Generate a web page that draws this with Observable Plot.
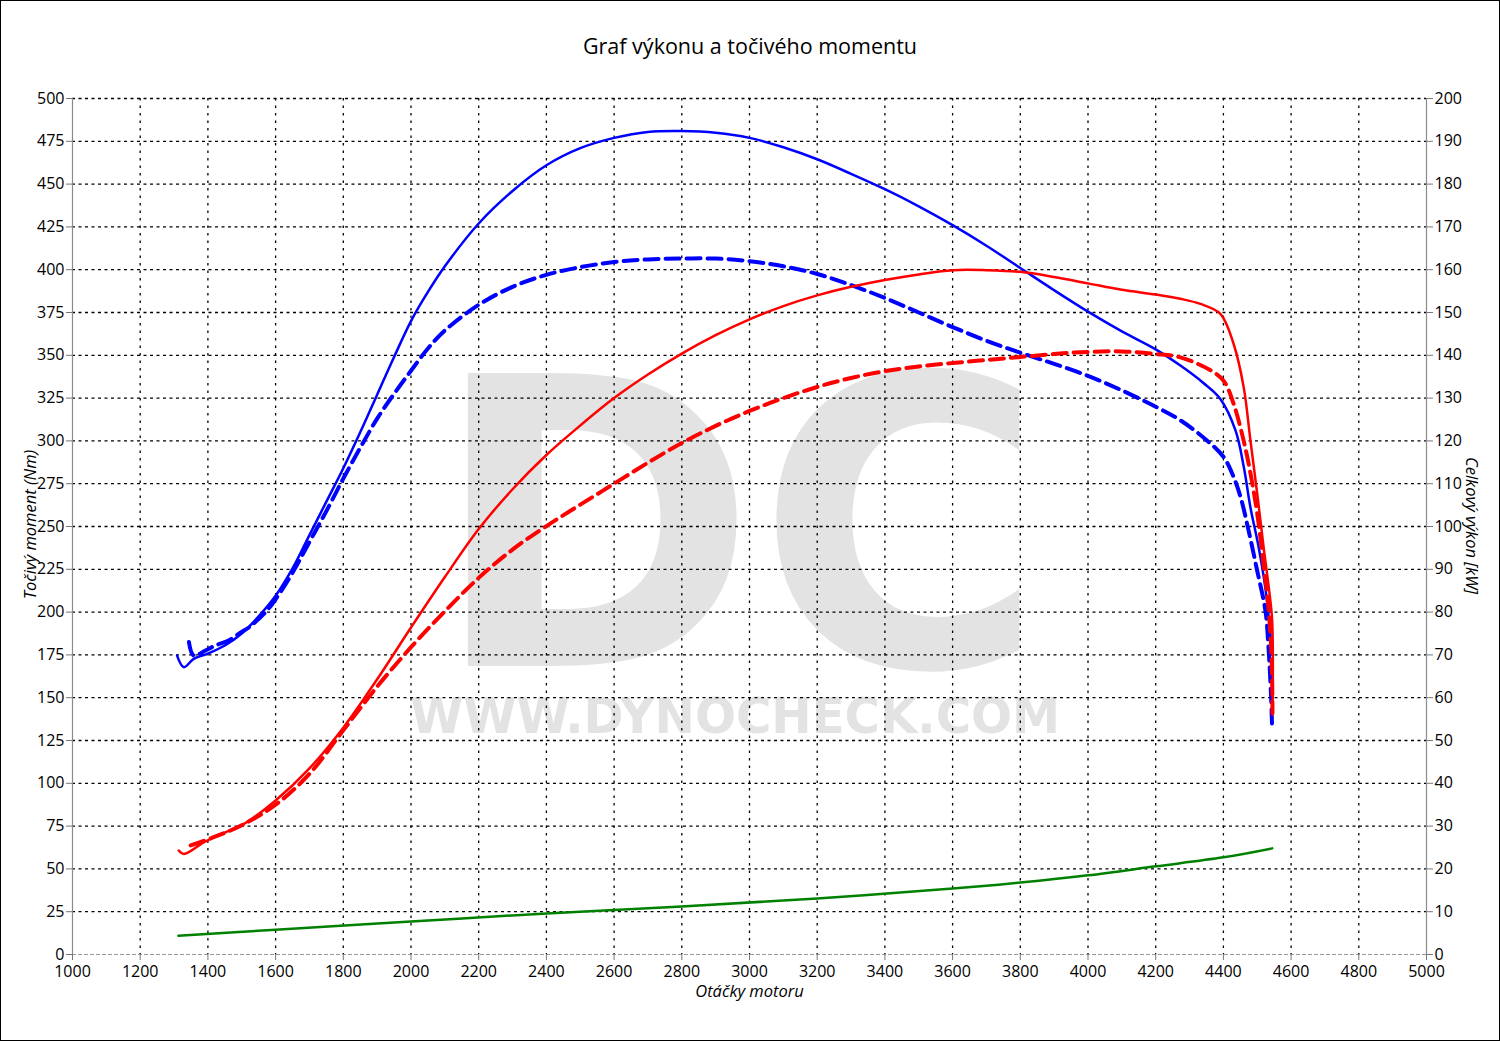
<!DOCTYPE html>
<html>
<head>
<meta charset="utf-8">
<script src="https://cdn.jsdelivr.net/npm/d3@7"></script>
<script src="https://cdn.jsdelivr.net/npm/@observablehq/plot@0.6"></script>
<style>
  html, body { margin: 0; padding: 0; background: #fff; }
  #wrap { width: 1500px; height: 1041px; box-sizing: border-box; border: 1px solid #000; background: #fff; position: relative; overflow: hidden; }
  #title { height: 69px; position: relative; font-family: "Open Sans", sans-serif; font-size: 21.5px; color: #000; }
  #title span { position: absolute; left: 0; right: 0; top: 30px; line-height: 30px; text-align: center; }
  svg { display: block; }
</style>
</head>
<body>
<div id="wrap">
  <div id="title"><span>Graf výkonu a točivého momentu</span></div>
  <div id="chart"></div>
</div>
<script>
// ---- Data ----
const xTicks = d3.range(1000, 5001, 200);
const yTicks = d3.range(0, 501, 25);

// Tuned torque [Nm]
const torqueTunedRpm = [1309,1329,1358,1398,1450,1500,1550,1600,1650,1700,1750,1800,1850,1900,1950,2000,2050,2100,2200,2300,2400,2500,2600,2700,2800,2900,3000,3100,3200,3300,3400,3500,3600,3700,3800,3900,4000,4100,4200,4273,4340,4391,4436,4460,4480,4504,4524,4537,4544];
const torqueTunedNm  = [174.6,167.8,172.7,175.6,180.5,187.5,197.5,209.5,225.5,245,264.5,284,305,327,349,370,387,402,427,446,461,471,477,480.5,481,480,477,471.5,464.5,456,447,437,426,414,401,388,375.5,364,353.5,344,334,324.5,306,285,261,238,214,191,175];

// Stock torque [Nm]
const torqueStockRpm = [1344,1358,1393,1422,1461,1496,1521,1550,1575,1600,1650,1700,1750,1800,1850,1900,1950,2000,2050,2100,2200,2300,2400,2500,2600,2700,2800,2900,3000,3100,3200,3300,3400,3500,3600,3700,3800,3900,4000,4100,4200,4273,4347,4401,4430,4451,4474,4500,4524,4533,4541,4544];
const torqueStockNm  = [182.5,174.6,177.6,180.5,183.4,188,191,196,201,207.5,223,241,259,278,296,313,327.5,341,354,364.5,379.5,390,397,401.5,404.5,406,406.5,406.5,405,402,397.5,391,383.5,375,366.5,358.5,351.5,345,338,329.5,320,312,301,290.5,279,267,248,224,201,180,150,131];

// Tuned power [kW]
const powerTunedRpm = [1314,1329,1388,1450,1500,1600,1700,1800,1900,2000,2100,2200,2300,2400,2500,2600,2700,2800,2900,3000,3100,3200,3300,3400,3500,3600,3700,3800,3900,4000,4100,4200,4273,4332,4391,4430,4460,4480,4500,4519,4534,4544,4545];
const powerTunedKw  = [24.3,23.5,26.2,28.5,30.2,36,43.5,53,64.3,76.4,88.2,99.4,108.7,116.7,123.6,130,135.5,140.4,144.7,148.4,151.5,154,156,157.6,158.9,159.9,159.9,159.5,158.3,156.8,155.3,154.2,153.2,152,149.7,142.7,132.5,120,107.6,95,85.8,78,56];

// Stock power [kW]
const powerStockRpm = [1349,1417,1500,1600,1700,1800,1900,2000,2100,2200,2300,2400,2500,2600,2700,2800,2900,3000,3100,3200,3300,3400,3500,3600,3700,3800,3900,4000,4100,4200,4273,4362,4401,4430,4460,4480,4500,4519,4532,4541,4544,4545];
const powerStockKw  = [25.5,27.4,30.2,35,42.2,52.4,62.6,71.8,80.2,88,94.6,100.1,105.1,110,114.9,119.5,123.5,127,130,132.6,134.7,136.3,137.4,138.2,138.9,139.6,140.3,140.8,140.9,140.3,139.5,136.5,134,128.7,120,112.4,103,91,82,71.8,64,56.4];

// Loss power [kW]
const lossRpm = [1313,1600,2000,2400,2800,3200,3600,3800,4000,4200,4400,4544];
const lossKw  = [4.4,5.8,7.7,9.6,11.2,13.1,15.4,16.8,18.5,20.6,22.7,24.8];

// ---- Build tables ----
const zip = (xs, ys) => xs.map((x, i) => ({rpm: x, v: ys[i]}));
const tTuned = zip(torqueTunedRpm, torqueTunedNm);
const tStock = zip(torqueStockRpm, torqueStockNm);
const pTuned = zip(powerTunedRpm, powerTunedKw);
const pStock = zip(powerStockRpm, powerStockKw);
const loss = zip(lossRpm, lossKw);
const kwToLeft = d => d.v * 2.5; // right axis 0–200 kW shares the 0–500 Nm frame

const font = "'Open Sans', 'Noto Sans', sans-serif";

const chart = Plot.plot({
  width: 1498,
  height: 970,
  marginLeft: 71,
  marginRight: 73,
  marginTop: 28,
  marginBottom: 86,
  style: {fontFamily: font, fontSize: "16px", background: "#fff", color: "#000"},
  x: {domain: [1000, 5000]},
  y: {domain: [0, 500]},
  marks: [
    // grid
    Plot.ruleY(yTicks.filter(d => d > 0), {stroke: "#000", strokeWidth: 1.3, strokeDasharray: "3,3.5"}),
    Plot.ruleX(xTicks.filter(d => d > 1000 && d < 5000), {stroke: "#000", strokeWidth: 1.3, strokeDasharray: "2.5,5"}),
    // frame lines
    Plot.ruleX([1000, 5000], {stroke: "#8a8a8a", strokeWidth: 1.2}),
    Plot.ruleY([0], {stroke: "#9a9a9a", strokeWidth: 1.2, strokeDasharray: "4,2"}),
    // axes
    Plot.axisY(yTicks, {anchor: "left", tickSize: 6, tickPadding: 2, stroke: "#777", label: null, fontSize: 16}),
    Plot.axisY(yTicks, {anchor: "right", tickSize: 6, tickPadding: 2, stroke: "#777", label: null, tickFormat: d => d * 0.4, fontSize: 16}),
    Plot.axisX(xTicks, {anchor: "bottom", tickSize: 6, tickPadding: 5, stroke: "#777", label: null, tickFormat: d => String(d), fontSize: 16}),
    // curves
    Plot.line(loss, {x: "rpm", y: kwToLeft, stroke: "#008000", strokeWidth: 2.5, curve: "catmull-rom"}),
    Plot.line(tStock, {x: "rpm", y: "v", stroke: "#0000ff", strokeWidth: 4, strokeDasharray: "14,7", curve: "catmull-rom"}),
    Plot.line(tTuned, {x: "rpm", y: "v", stroke: "#0000ff", strokeWidth: 2.5, curve: "catmull-rom"}),
    Plot.line(pStock, {x: "rpm", y: kwToLeft, stroke: "#ff0000", strokeWidth: 4, strokeDasharray: "14,7", curve: "catmull-rom"}),
    Plot.line(pTuned, {x: "rpm", y: kwToLeft, stroke: "#ff0000", strokeWidth: 2.5, curve: "catmull-rom"}),
    // axis titles
    Plot.text(["Točivý moment (Nm)"], {frameAnchor: "left", textAnchor: "middle", dx: -42, dy: -2, rotate: -90, fontStyle: "italic", fontSize: 16.5, fill: "#000"}),
    Plot.text(["Celkový výkon [kW]"], {frameAnchor: "right", textAnchor: "middle", dx: 45, dy: -1, rotate: 90, fontStyle: "italic", fontSize: 16.5, fill: "#000"}),
    Plot.text(["Otáčky motoru"], {frameAnchor: "bottom", textAnchor: "middle", dy: 42, fontStyle: "italic", fontSize: 16.5, fill: "#000"})
  ]
});

// watermark behind everything
const svg = d3.select(chart);
const wm = svg.insert("g", "g").attr("aria-label", "watermark");
wm.append("text")
  .attr("x", 737).attr("y", 596)
  .attr("text-anchor", "middle")
  .attr("font-family", "'DejaVu Sans Condensed', 'DejaVu Sans', sans-serif")
  .attr("font-weight", "bold")
  .attr("font-size", 402)
  .attr("fill", "#e3e3e3")
  .attr("textLength", 612)
  .attr("lengthAdjust", "spacingAndGlyphs")
  .text("DC");
wm.append("text")
  .attr("x", 734).attr("y", 663)
  .attr("text-anchor", "middle")
  .attr("font-family", "'DejaVu Sans Condensed', 'DejaVu Sans', sans-serif")
  .attr("font-weight", "bold")
  .attr("font-size", 50)
  .attr("fill", "#e3e3e3")
  .attr("textLength", 650)
  .attr("lengthAdjust", "spacingAndGlyphs")
  .text("WWW.DYNOCHECK.COM");

document.getElementById("chart").appendChild(chart);
</script>
</body>
</html>
